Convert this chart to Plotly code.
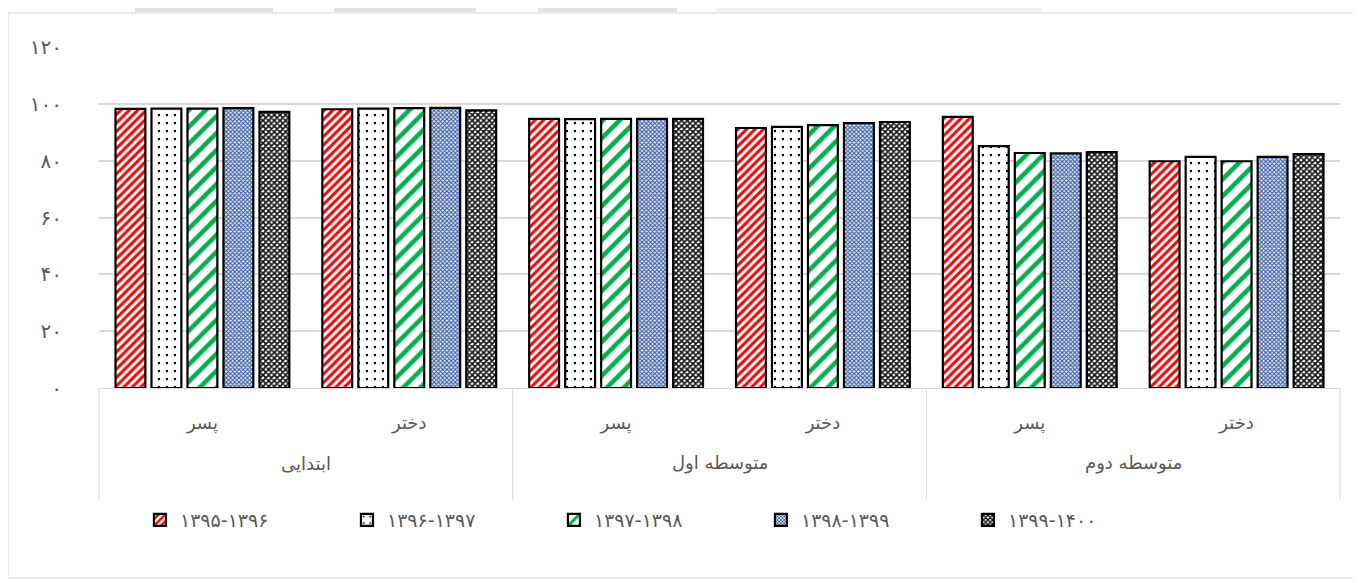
import plotly.graph_objects as go

# category levels (Excel-style two-level axis)
level_names = ["ابتدایی", "متوسطه اول", "متوسطه دوم"]
genders = ["پسر", "دختر", "پسر", "دختر", "پسر", "دختر"]

years = ["۱۳۹۵-۱۳۹۶", "۱۳۹۶-۱۳۹۷", "۱۳۹۷-۱۳۹۸", "۱۳۹۸-۱۳۹۹", "۱۳۹۹-۱۴۰۰"]

v_9596 = [98.2, 98.1, 94.7, 91.5, 95.4, 79.8]
v_9697 = [98.3, 98.3, 94.6, 91.9, 85.1, 81.3]
v_9798 = [98.3, 98.5, 94.7, 92.5, 82.7, 79.8]
v_9899 = [98.5, 98.6, 94.7, 93.2, 82.6, 81.3]
v_9900 = [97.2, 97.7, 94.7, 93.6, 83.0, 82.3]

ytick_vals = [0, 20, 40, 60, 80, 100, 120]
ytick_text = ["۰", "۲۰", "۴۰", "۶۰", "۸۰", "۱۰۰", "۱۲۰"]

series = [v_9596, v_9697, v_9798, v_9899, v_9900]
patterns = [
    dict(shape="/", fgcolor="#ff0000", bgcolor="white", size=6, solidity=0.5, fgopacity=1),
    dict(shape=".", fgcolor="black", bgcolor="white", size=8, solidity=0.07, fgopacity=1),
    dict(shape="/", fgcolor="#00b050", bgcolor="white", size=12, solidity=0.38, fgopacity=1),
    dict(shape="x", fgcolor="#34589c", bgcolor="#dbe3f1", size=3, solidity=0.55, fgopacity=1),
    dict(shape="x", fgcolor="#111111", bgcolor="white", size=4, solidity=0.65, fgopacity=1),
]

grey = "#595959"
font_fam = "DejaVu Sans"
xpos = list(range(len(genders)))

fig = go.Figure()
for name, vals, pat in zip(years, series, patterns):
    fig.add_trace(go.Bar(
        x=xpos,
        y=vals,
        name=name,
        marker=dict(color="white", pattern=pat,
                    line=dict(color="black", width=2.2)),
    ))

# chart border, plus the grey page strip seen above the chart
shapes = [dict(type="rect", xref="paper", yref="paper",
               x0=-91 / 1241, x1=1259 / 1241, y0=-190 / 341, y1=375 / 341,
               line=dict(color="#d9d9d9", width=1), layer="below")]
for x0, x1, c in [(135, 273, "#e3e3e3"), (334, 476, "#e3e3e3"),
                  (538, 677, "#e3e3e3"), (716, 1042, "#f1f1f1")]:
    shapes.append(dict(type="rect", xref="paper", yref="paper",
                       x0=(x0 - 99) / 1241, x1=(x1 - 99) / 1241,
                       y0=376 / 341, y1=400 / 341, fillcolor=c,
                       line=dict(width=0), layer="below"))

# outer level labels and the box dividers under the axis
annotations = []
n = len(genders)
for i, lv in enumerate(level_names):
    annotations.append(dict(text=lv, xref="paper", yref="paper",
                            x=(2 * i + 1) / n, y=-75 / 341, showarrow=False,
                            xanchor="center", yanchor="middle",
                            font=dict(size=18, color=grey)))
for k in range(len(level_names) + 1):
    shapes.append(dict(type="line", xref="paper", yref="paper",
                       x0=2 * k / n, x1=2 * k / n, y0=0, y1=-112 / 341,
                       line=dict(color="#d9d9d9", width=1)))

fig.update_layout(
    width=1361, height=583,
    barmode="group",
    bargap=0.13,
    bargroupgap=0.17,
    plot_bgcolor="white",
    paper_bgcolor="white",
    margin=dict(l=91, r=29, t=39, b=203),
    font=dict(family=font_fam, size=16, color=grey),
    legend=dict(orientation="h", x=0.45, xanchor="center", y=-132 / 341, yanchor="middle",
                font=dict(size=19, color=grey), entrywidth=162, traceorder="normal"),
    shapes=shapes,
    annotations=annotations,
)
fig.update_yaxes(range=[0, 120], tickvals=ytick_vals, ticktext=ytick_text,
                 showgrid=True, gridcolor="#d9d9d9", gridwidth=1.5,
                 zeroline=False, showline=False, ticklabelstandoff=36,
                 tickfont=dict(size=20, color=grey))
fig.update_xaxes(range=[-0.5, n - 0.5], tickvals=xpos, ticktext=genders,
                 showline=True, linecolor="#d9d9d9", linewidth=1,
                 showgrid=False, zeroline=False, ticklabelstandoff=18,
                 tickfont=dict(size=18, color=grey))

fig.write_html("out.html")
